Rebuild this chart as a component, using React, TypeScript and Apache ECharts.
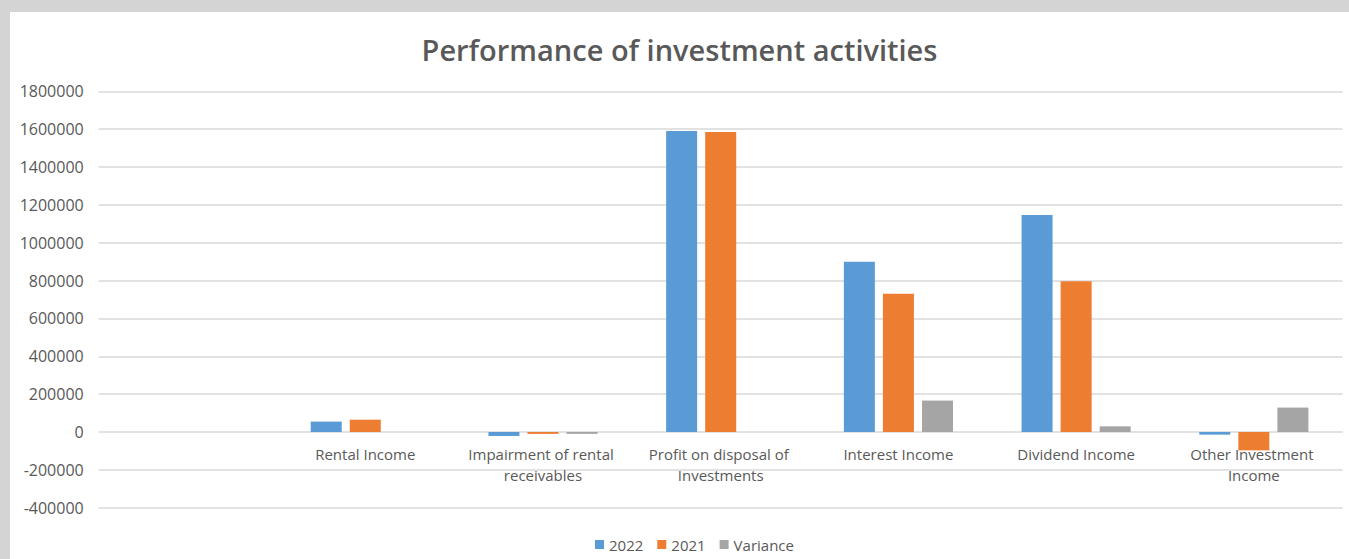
import React, { useEffect, useRef } from "react";
import * as echarts from "echarts";

const categories = [
  "",
  "Rental Income",
  "Impairment of rental receivables",
  "Profit on disposal of Investments",
  "Interest Income",
  "Dividend Income",
  "Other Investment Income",
];
const seriesNames = ["2022", "2021", "Variance"];
const values2022 = [null, 55000, -21000, 1590000, 900000, 1146000, -14000];
const values2021 = [null, 65000, -10000, 1585000, 731000, 796000, -97000];
const valuesVariance = [null, 0, -10000, 0, 166000, 30000, 129000];
const colors = ["#5b9bd5", "#ed7d31", "#a5a5a5"];

const FONT = "'Open Sans', 'Liberation Sans', sans-serif";

export default function App() {
  const ref = useRef<HTMLDivElement>(null);
  useEffect(() => {
    if (!ref.current) return;
    const chart = echarts.init(ref.current, undefined, { renderer: "svg" });
    const data = [values2022, values2021, valuesVariance];
    chart.setOption({
      animation: false,
      backgroundColor: "#ffffff",
      title: {
        text: "Performance of investment activities",
        left: "center",
        top: 18,
        textStyle: { fontFamily: FONT, fontSize: 29, fontWeight: 600, color: "#595959" },
      },
      legend: {
        bottom: 2,
        left: 580,
        itemWidth: 9,
        itemHeight: 9,
        itemGap: 14,
        icon: "rect",
        textStyle: { fontFamily: FONT, fontSize: 15, color: "#595959" },
        data: seriesNames,
      },
      grid: { left: 88.7, right: 6.3, top: 79.3, bottom: 51.3, containLabel: false },
      xAxis: {
        type: "category",
        data: categories,
        position: "bottom",
        axisLine: { show: false, onZero: false },
        axisTick: { show: false },
        axisLabel: {
          interval: 0,
          margin: -64,
          verticalAlign: "top",
          color: "#595959",
          fontFamily: FONT,
          fontSize: 15,
          lineHeight: 21,
          width: 160,
          overflow: "break",
        },
      },
      yAxis: {
        type: "value",
        min: -400000,
        max: 1800000,
        interval: 200000,
        axisLine: { show: false },
        axisTick: { show: false },
        splitLine: { lineStyle: { color: "#d9d9d9", width: 1.5 } },
        axisLabel: {
          color: "#595959",
          fontFamily: FONT,
          fontSize: 16,
          margin: 15,
          formatter: (v: number) => String(v),
        },
      },
      series: seriesNames.map((name, i) => ({
        name,
        type: "bar",
        data: data[i],
        barWidth: 31,
        barGap: "26%",
        itemStyle: { color: colors[i] },
        z: 1,
      })),
    });
    return () => chart.dispose();
  }, []);
  return (
    <div style={{ position: "fixed", left: 0, top: 0, width: 1349, height: 559, background: "#d4d4d4" }}>
      <div ref={ref} style={{ position: "absolute", left: 10, top: 12, width: 1339, height: 547 }} />
    </div>
  );
}
